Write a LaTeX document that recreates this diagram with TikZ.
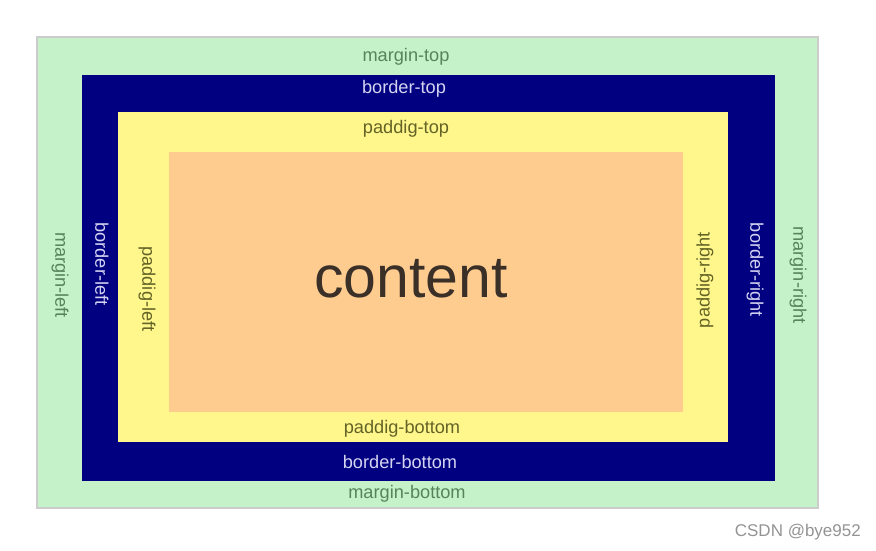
\documentclass[tikz,border=0pt]{standalone}
\usepackage{fontspec}
\setmainfont{Liberation Sans}
\usetikzlibrary{positioning, calc}

\definecolor{marginfill}{HTML}{C6F2C9}
\definecolor{borderfill}{HTML}{000080}
\definecolor{padfill}{HTML}{FFF68C}
\definecolor{contentfill}{HTML}{FFCC90}
\definecolor{margintext}{HTML}{558558}
\definecolor{bordertext}{HTML}{D4D4F2}
\definecolor{padtext}{HTML}{636326}
\definecolor{contenttext}{HTML}{3A3028}

\begin{document}
\begin{tikzpicture}[
    x=1pt, y=-1pt,
    font=\fontsize{18.2}{21}\selectfont,
    every node/.style={align=center, inner sep=0pt},
    mlbl/.style ={text=margintext},
    blbl/.style ={text=bordertext},
    plbl/.style ={text=padtext},
    down/.style ={rotate=-90},
    up/.style   ={rotate=90}
]
\useasboundingbox (0,0) rectangle (876,551);

% Boxes, outside in
\fill[marginfill] (37,37) rectangle (818,508);
\draw[gray!40, line width=1.2pt] (37,37) rectangle (818,508);
\fill[borderfill] (82,75) rectangle (775,481);
\fill[padfill] (118,112) rectangle (728,442);
\fill[contentfill] (169,152) rectangle (683,412);

% Top labels
\node[mlbl] (mtop) at (406,57)  {margin-top};
\node[blbl] (btop) at (404,89)  {border-top};
\node[plbl] (ptop) at (406,129) {paddig-top};

% Bottom labels
\node[plbl] (pbot) at (402,429) {paddig-bottom};
\node[blbl] (bbot) at (400,462) {border-bottom};
\node[mlbl] (mbot) at (407,494) {margin-bottom};

% Left labels
\node[mlbl, down] (mleft) at (60,275)  {margin-left};
\node[blbl, down] (bleft) at (102,264) {border-left};
\node[plbl, down] (pleft) at (147,289) {paddig-left};

% Right labels
\node[plbl, up]   (pright) at (705,280) {paddig-right};
\node[blbl, down] (bright) at (755,270) {border-right};
\node[mlbl, down] (mright) at (798,275) {margin-right};

% Content
\node[text=contenttext, font=\fontsize{59}{66}\selectfont] (cont) at (411,279) {content};

% Watermark
\node[text=gray!85, anchor=east, font=\fontsize{17}{20}\selectfont] (mark) at (861,532) {CSDN @bye952};
\end{tikzpicture}
\end{document}
